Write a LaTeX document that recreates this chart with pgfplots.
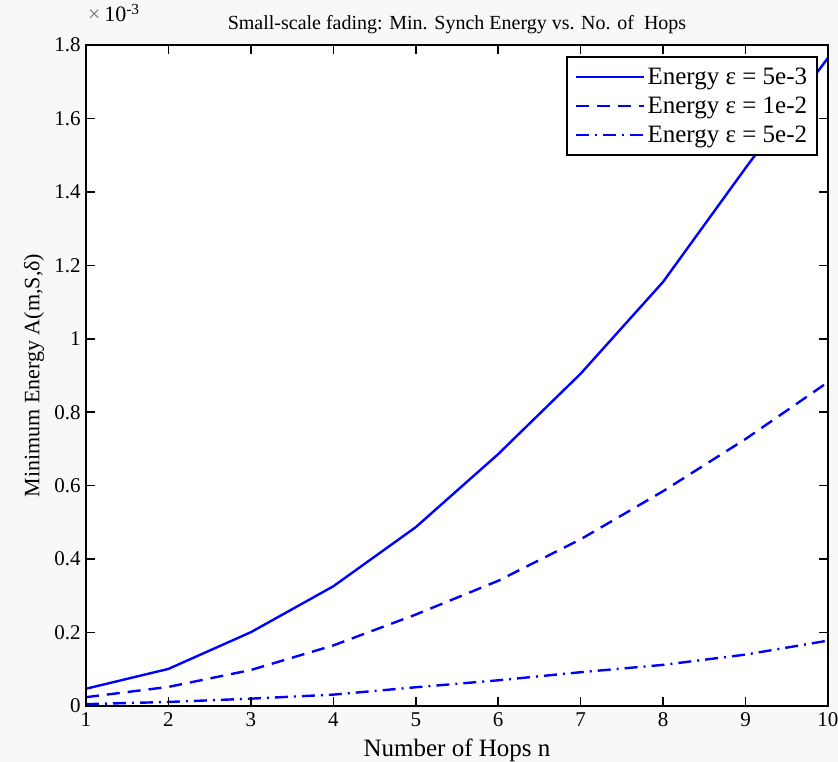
\documentclass[border=0pt]{standalone}
\usepackage{pgfplots}
\pgfplotsset{compat=1.18}
\usepackage{fontspec}
\setmainfont{Liberation Serif}
\definecolor{mblue}{RGB}{0,0,255}
\definecolor{bgc}{RGB}{248,248,248}
\begin{document}
\begin{tikzpicture}
\fill[bgc] (-86pt,-56pt) rectangle (752pt,706pt);
\fill[white] (0pt,0pt) rectangle (742pt,661pt);
\begin{axis}[
  at={(0pt,0pt)}, anchor=south west,
  scale only axis, width=742pt, height=661pt,
  xmin=1, xmax=10, ymin=0, ymax=1.8,
  xtick={1,2,3,4,5,6,7,8,9,10},
  ytick={0,0.2,0.4,0.6,0.8,1,1.2,1.4,1.6,1.8},
  yticklabels={0,0.2,0.4,0.6,0.8,1,1.2,1.4,1.6,1.8},
  /pgf/number format/assume math mode=true,
  axis on top,
  every axis/.append style={line width=2pt},
  tick align=inside,
  major tick length=9pt,
  tick style={draw=black, line width=1.6pt},
  ticklabel style={font=\fontsize{21}{25}\selectfont},
  xticklabel style={yshift=-2pt},
  yticklabel style={xshift=-1pt},
  xlabel={Number of Hops n},
  xlabel style={font=\fontsize{25}{29}\selectfont, at={(0.5,0)}, anchor=base, yshift=-51pt},
  title={Small-scale fading: Min. Synch Energy vs. No. of\ \ Hops},
  title style={font=\fontsize{20}{24}\selectfont, at={(0.5,1)}, anchor=base, yshift=9pt},
  legend style={at={(1,1)}, anchor=north east, xshift=-10pt, yshift=-11pt,
    draw=black, line width=1.8pt, fill=white,
    font=\fontsize{25}{29}\selectfont,
    row sep=7pt, inner xsep=8pt, inner ysep=9pt},
  legend cell align=left,
  legend image code/.code={\draw[#1, line width=2.2pt] (0pt,0pt) -- (68pt,0pt);},
]
\pgfplotsinvokeforeach{2,3,4,5,6,7,8,9}{
  \draw[black, line width=1.6pt] (axis cs:#1,0) -- ++(0pt,9pt);
  \draw[black, line width=1.6pt] (axis cs:#1,1.8) -- ++(0pt,-9pt);
}
\pgfplotsinvokeforeach{0.2,0.4,0.6,0.8,1.0,1.2,1.4,1.6}{
  \draw[black, line width=1.6pt] (axis cs:1,#1) -- ++(9pt,0pt);
  \draw[black, line width=1.6pt] (axis cs:10,#1) -- ++(-9pt,0pt);
}
\addplot[mblue, line width=2.4pt] coordinates {
 (1,0.047) (2,0.101) (3,0.201) (4,0.326) (5,0.487) (6,0.686) (7,0.905) (8,1.155) (9,1.465) (10,1.765)};
\addlegendentry{Energy ε = 5e-3\hspace{28pt}}
\addplot[mblue, line width=2.4pt, dash pattern=on 13pt off 8pt] coordinates {
 (1,0.024) (2,0.052) (3,0.098) (4,0.165) (5,0.249) (6,0.341) (7,0.454) (8,0.585) (9,0.727) (10,0.882)};
\addlegendentry{Energy ε = 1e-2\hspace{28pt}}
\addplot[mblue, line width=2.4pt, dash pattern=on 13pt off 6pt on 2pt off 6pt] coordinates {
 (1,0.005) (2,0.011) (3,0.020) (4,0.031) (5,0.051) (6,0.070) (7,0.092) (8,0.112) (9,0.140) (10,0.178)};
\addlegendentry{Energy ε = 5e-2\hspace{28pt}}
\end{axis}
\node[rotate=90, font=\fontsize{22}{26}\selectfont] at (-52pt,330.5pt) {Minimum Energy A(m,S,δ)};
\node[anchor=base west, font=\fontsize{22}{26}\selectfont, inner sep=0pt] at (2pt,684pt) {{\color{black!55}×}\,10\textsuperscript{-3}};
\pgfresetboundingbox
\path (-86pt,-56pt) rectangle (752pt,706pt);
\end{tikzpicture}
\end{document}
